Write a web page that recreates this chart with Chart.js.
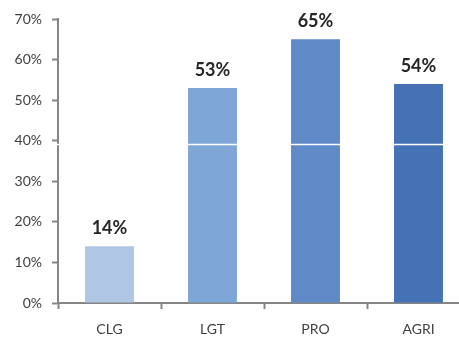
<!DOCTYPE html>
<html>
<head>
    <title>Share by category</title>
    <script src="https://cdn.jsdelivr.net/npm/chart.js"></script>
    <style>
        html, body {
            margin: 0;
            padding: 0;
            background: #fff;
            overflow: hidden;
        }
        .wrap {
            width: 472px;
            height: 338px;
        }
    </style>
</head>
<body>
    <div class="wrap">
        <canvas id="graph" width="472" height="338"></canvas>
    </div>

    <script>
        var categories = ["CLG", "LGT", "PRO", "AGRI"];
        var shares = [14, 53, 65, 54];
        var barColors = ["#b0c6e5", "#7ea7d8", "#5f89c7", "#4572b4"];
        var yTicks = [0, 10, 20, 30, 40, 50, 60, 70];

        // value labels above each bar
        var valueLabels = {
            id: "valueLabels",
            afterDatasetsDraw: function (chart) {
                var ctx = chart.ctx;
                var meta = chart.getDatasetMeta(0);
                ctx.save();
                ctx.font = "bold 18px Lato, 'Open Sans', sans-serif";
                ctx.fillStyle = "#262626";
                ctx.textAlign = "center";
                ctx.textBaseline = "bottom";
                meta.data.forEach(function (bar, i) {
                    ctx.fillText(shares[i] + "%", bar.x, bar.y - 9);
                });
                ctx.restore();
            }
        };

        // thin white seam across the plot, as in the source picture
        var seam = {
            id: "seam",
            afterDraw: function (chart) {
                var ctx = chart.ctx;
                var y = Math.round(chart.scales.y.getPixelForValue(39.2)) + 0.5;
                ctx.save();
                ctx.strokeStyle = "#ffffff";
                ctx.lineWidth = 1.5;
                ctx.beginPath();
                ctx.moveTo(50, y);
                ctx.lineTo(chart.width, y);
                ctx.stroke();
                ctx.restore();
            }
        };

        var ctx = document.getElementById("graph").getContext("2d");
        new Chart(ctx, {
            type: "bar",
            data: {
                labels: categories,
                datasets: [{
                    data: shares,
                    backgroundColor: barColors,
                    categoryPercentage: 1,
                    barPercentage: 0.475
                }]
            },
            options: {
                responsive: false,
                animation: false,
                layout: { padding: { top: 19, left: 0, right: 2, bottom: 0 } },
                plugins: {
                    legend: { display: false },
                    tooltip: { enabled: false }
                },
                scales: {
                    x: {
                        offset: true,
                        grid: {
                            offset: true,
                            drawOnChartArea: false,
                            tickLength: 6,
                            tickWidth: 2,
                            tickColor: "#868686"
                        },
                        border: { color: "#868686", width: 2 },
                        ticks: {
                            color: "#404040",
                            padding: 12,
                            font: { size: 14, family: "Lato, 'Open Sans', sans-serif" }
                        },
                        afterFit: function (s) { s.height = 35; }
                    },
                    y: {
                        min: 0,
                        max: 70,
                        afterBuildTicks: function (s) {
                            s.ticks = yTicks.map(function (v) { return { value: v }; });
                        },
                        grid: {
                            drawOnChartArea: false,
                            tickLength: 6,
                            tickWidth: 2,
                            tickColor: "#868686"
                        },
                        border: { color: "#868686", width: 2 },
                        ticks: {
                            color: "#404040",
                            padding: 10,
                            font: { size: 14, family: "Lato, 'Open Sans', sans-serif" },
                            callback: function (v) { return v + "%"; }
                        },
                        afterFit: function (s) { s.width = 58; }
                    }
                }
            },
            plugins: [valueLabels, seam]
        });
    </script>
</body>
</html>
